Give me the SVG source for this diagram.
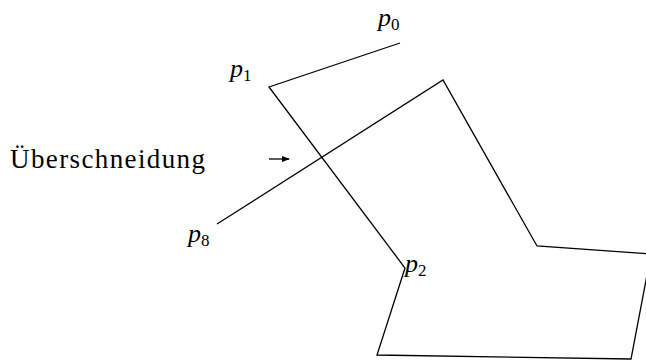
<svg xmlns="http://www.w3.org/2000/svg" width="646" height="360" viewBox="0 0 646 360">
<style>
.l{fill:none;stroke:#000;stroke-width:1.3;stroke-linejoin:miter}
.t{font-family:"Liberation Serif","DejaVu Serif",serif;font-size:27px;fill:#000}
.i{font-style:italic;font-size:26px}
.s{font-size:17px;font-style:normal}
</style>
<defs>
<marker id="ah" markerWidth="8" markerHeight="6" refX="7" refY="3" orient="auto" markerUnits="userSpaceOnUse">
<path d="M0,0 L8,3 L0,6 Z" fill="#000"/>
</marker>
</defs>
<rect width="646" height="360" fill="#fff"/>
<g id="connectors">
<polyline class="l" points="400,43 269,87 405,268 377,355 631,359 651,254 537,246 443,80 217,224"/>
<line class="l" x1="269" y1="159" x2="289" y2="159" stroke-width="1" marker-end="url(#ah)"/>
</g>
<g id="label-ueberschneidung"><text class="t" x="10" y="168" textLength="195" lengthAdjust="spacing">Überschneidung</text></g>
<g id="p0"><text class="t i" x="378" y="26">p<tspan class="s" dy="4">0</tspan></text></g>
<g id="p1"><text class="t i" x="230" y="77">p<tspan class="s" dy="4">1</tspan></text></g>
<g id="p8"><text class="t i" x="188" y="242">p<tspan class="s" dy="4">8</tspan></text></g>
<g id="p2"><text class="t i" x="405" y="272">p<tspan class="s" dy="4">2</tspan></text></g>
</svg>
